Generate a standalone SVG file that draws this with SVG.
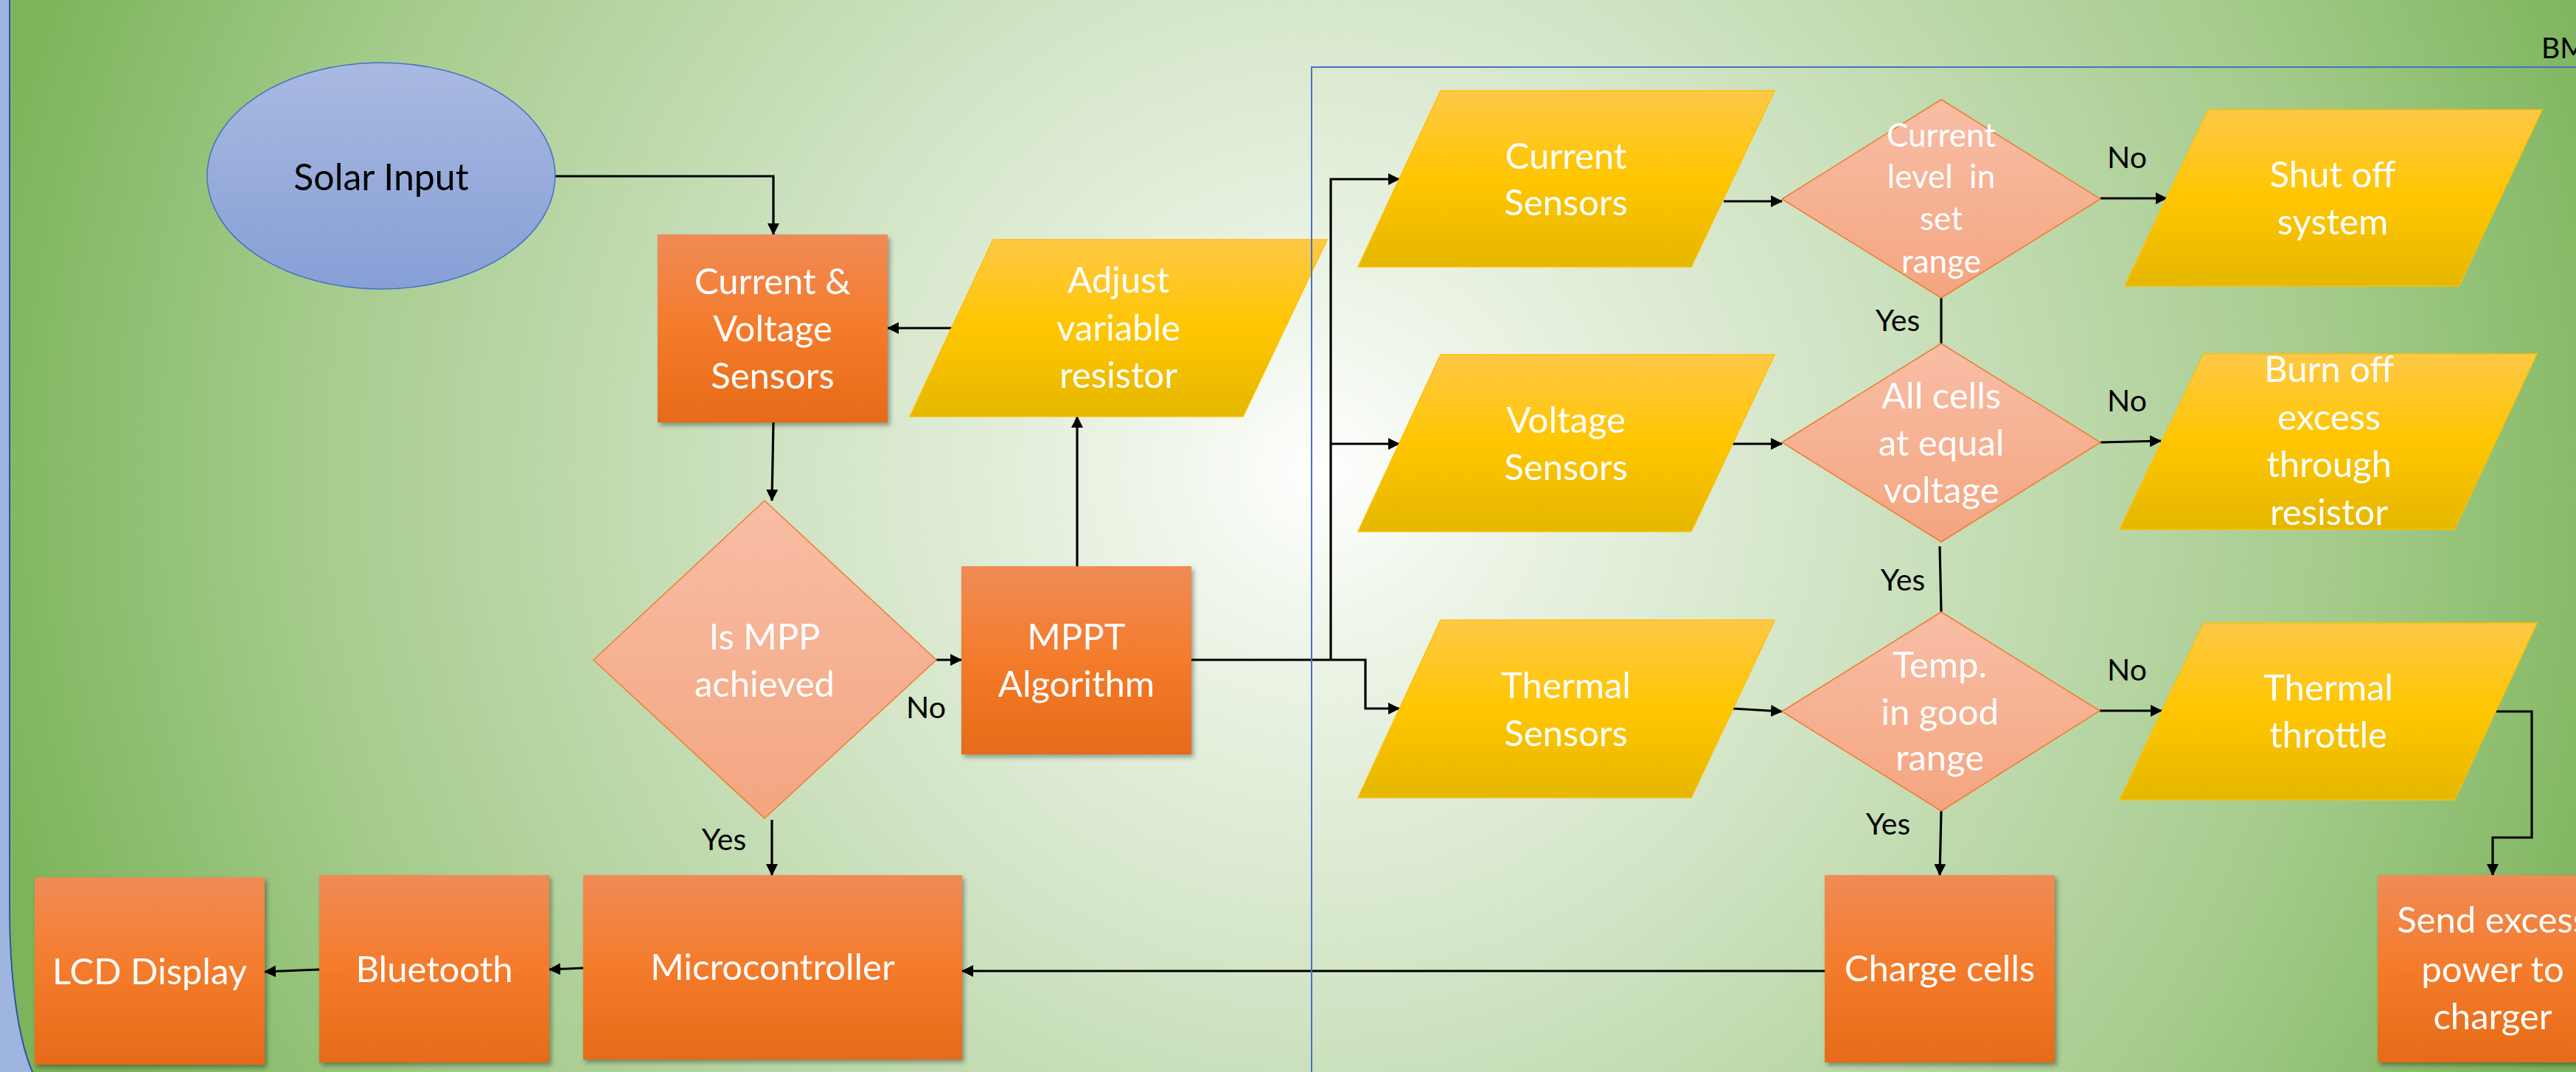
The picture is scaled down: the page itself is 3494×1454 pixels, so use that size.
<svg xmlns="http://www.w3.org/2000/svg" width="3494" height="1454" viewBox="0 0 3494 1454">
<defs>
<radialGradient id="bg" gradientUnits="userSpaceOnUse" cx="1790" cy="640" r="1850">
<stop offset="0" stop-color="#ffffff"/>
<stop offset="0.12" stop-color="#eef5e9"/>
<stop offset="0.4" stop-color="#d0e3c3"/>
<stop offset="0.75" stop-color="#a4cb8b"/>
<stop offset="1" stop-color="#7bb45a"/>
</radialGradient>
<linearGradient id="gOrange" x1="0" y1="0" x2="0" y2="1">
<stop offset="0" stop-color="#f08b56"/>
<stop offset="0.5" stop-color="#f47b2b"/>
<stop offset="1" stop-color="#e66b19"/>
</linearGradient>
<linearGradient id="gYellow" x1="0" y1="0" x2="0" y2="1">
<stop offset="0" stop-color="#ffc847"/>
<stop offset="0.5" stop-color="#ffc600"/>
<stop offset="1" stop-color="#e5b700"/>
</linearGradient>
<linearGradient id="gSalmon" x1="0" y1="0" x2="0" y2="1">
<stop offset="0" stop-color="#f8bea6"/>
<stop offset="1" stop-color="#f4a580"/>
</linearGradient>
<linearGradient id="gBlue" x1="0" y1="0" x2="0" y2="1">
<stop offset="0" stop-color="#a9bae1"/>
<stop offset="1" stop-color="#869fd6"/>
</linearGradient>
<filter id="shadow" x="-10%" y="-10%" width="125%" height="125%">
<feDropShadow dx="3" dy="4" stdDeviation="3" flood-color="#000" flood-opacity="0.35"/>
</filter>
<marker id="arr" markerUnits="userSpaceOnUse" markerWidth="16" markerHeight="16" refX="15" refY="8" orient="auto">
<path d="M0,0 L16,8 L0,16 z" fill="#000"/>
</marker>
</defs>
<style>
.box{fill:url(#gOrange);filter:url(#shadow);}
.para{fill:url(#gYellow);stroke:#ffc000;stroke-width:1.5;}
.dia{fill:url(#gSalmon);stroke:#ed7d31;stroke-width:1.5;}
.t{font-family:Lato,"Open Sans",sans-serif;font-size:49px;fill:#ffffff;text-anchor:middle;}
.t1{font-family:Lato,"Open Sans",sans-serif;font-size:44px;fill:#ffffff;text-anchor:middle;}
.lbl{font-family:Lato,"Open Sans",sans-serif;font-size:41px;fill:#000000;text-anchor:middle;}
.con{fill:none;stroke:#000;stroke-width:3.2;}
.arrow{marker-end:url(#arr);}
</style>

<rect x="0" y="0" width="3494" height="1454" fill="#9eb6df"/>
<path d="M13,0 L3494,0 L3494,1454 L44,1454 C25,1410 13,1330 13,1230 Z" fill="url(#bg)"/>
<path d="M13,0 L13,1230 C13,1330 25,1410 44,1454" fill="none" stroke="#2f55a4" stroke-width="2"/>

<g id="connectors">
<path class="con arrow" d="M753,239 H1049 V318"/>
<path class="con arrow" d="M1049,573 L1047,679"/>
<path class="con arrow" d="M1291,445 H1204"/>
<path class="con arrow" d="M1270,895 H1304"/>
<path class="con arrow" d="M1461,768 V565"/>
<path class="con arrow" d="M1047,1112 V1187"/>
<path class="con arrow" d="M1616,895 H1852 V961 H1898"/>
<path class="con arrow" d="M1805,895 V243 H1898"/>
<path class="con arrow" d="M1805,602 H1898"/>
<path class="con arrow" d="M2338,273 H2417"/>
<path class="con arrow" d="M2350,602 H2417"/>
<path class="con arrow" d="M2350,961 L2417,965"/>
<path class="con" d="M2633,404 V466"/>
<path class="con" d="M2631,741 L2633,830"/>
<path class="con arrow" d="M2633,1100 L2631,1187"/>
<path class="con arrow" d="M2849,269 H2939"/>
<path class="con arrow" d="M2849,600 L2931,598"/>
<path class="con arrow" d="M2848,964 H2932"/>
<path class="con arrow" d="M3386,965 H3434 V1136 H3381 V1187"/>
<path class="con arrow" d="M2475,1317 H1305"/>
<path class="con arrow" d="M791,1313 L745,1315"/>
<path class="con arrow" d="M433,1315 L359,1318"/>
</g>

<g id="solar-input">
<ellipse cx="517" cy="238.5" rx="236" ry="153.5" fill="url(#gBlue)" stroke="#4472c4" stroke-width="1.5"/>
<text class="t" x="517" y="258" style="fill:#000;font-size:50px">Solar Input</text>
</g>

<g id="cv-sensors">
<rect class="box" x="892" y="318" width="312" height="255"/>
<text class="t" x="1048" y="399">Current &amp;</text>
<text class="t" x="1048" y="463">Voltage</text>
<text class="t" x="1048" y="527">Sensors</text>
</g>

<g id="adjust-resistor">
<polygon class="para" points="1347,325 1800,325 1686,565 1234,565"/>
<text class="t" x="1517" y="397">Adjust</text>
<text class="t" x="1517" y="462">variable</text>
<text class="t" x="1517" y="526">resistor</text>
</g>

<g id="mpp-decision">
<polygon class="dia" points="805,895 1037,679 1270,895 1037,1110"/>
<text class="t" x="1037" y="881">Is MPP</text>
<text class="t" x="1037" y="945">achieved</text>
</g>

<g id="mppt">
<rect class="box" x="1304" y="768" width="312" height="255"/>
<text class="t" x="1460" y="881">MPPT</text>
<text class="t" x="1460" y="945">Algorithm</text>
</g>

<g id="microcontroller">
<rect class="box" x="791" y="1187" width="514" height="250"/>
<text class="t" x="1048" y="1329">Microcontroller</text>
</g>

<g id="bluetooth">
<rect class="box" x="433" y="1187" width="312" height="254"/>
<text class="t" x="589" y="1332">Bluetooth</text>
</g>

<g id="lcd-display">
<rect class="box" x="47" y="1190" width="312" height="254"/>
<text class="t" x="203" y="1335">LCD Display</text>
</g>

<g id="current-sensors">
<polygon class="para" points="1954,123 2407,123 2294,362 1842,362"/>
<text class="t" x="2124" y="229">Current</text>
<text class="t" x="2124" y="292">Sensors</text>
</g>

<g id="voltage-sensors">
<polygon class="para" points="1954,481 2407,481 2294,721 1842,721"/>
<text class="t" x="2124" y="587">Voltage</text>
<text class="t" x="2124" y="651">Sensors</text>
</g>

<g id="thermal-sensors">
<polygon class="para" points="1954,841 2407,841 2294,1082 1842,1082"/>
<text class="t" x="2124" y="947">Thermal</text>
<text class="t" x="2124" y="1012">Sensors</text>
</g>

<g id="current-decision">
<polygon class="dia" points="2417,270 2633,135 2849,270 2633,404"/>
<text class="t1" x="2633" y="199">Current</text>
<text class="t1" x="2633" y="255" style="white-space:pre">level  in</text>
<text class="t1" x="2633" y="312">set</text>
<text class="t1" x="2633" y="370">range</text>
</g>

<g id="voltage-decision">
<polygon class="dia" points="2417,600 2633,466 2849,600 2633,735"/>
<text class="t" x="2633" y="554">All cells</text>
<text class="t" x="2633" y="618">at equal</text>
<text class="t" x="2633" y="682">voltage</text>
</g>

<g id="temp-decision">
<polygon class="dia" points="2417,965 2633,830 2848,964 2633,1100"/>
<text class="t" x="2631" y="919">Temp.</text>
<text class="t" x="2631" y="983">in good</text>
<text class="t" x="2631" y="1045">range</text>
</g>

<g id="shut-off">
<polygon class="para" points="2995,149 3448,149 3335,388 2882,388"/>
<text class="t" x="3164" y="254">Shut off</text>
<text class="t" x="3164" y="318">system</text>
</g>

<g id="burn-off">
<polygon class="para" points="2989,480 3441,480 3329,718 2875,718"/>
<text class="t" x="3159" y="518">Burn off</text>
<text class="t" x="3159" y="583">excess</text>
<text class="t" x="3159" y="647">through</text>
<text class="t" x="3159" y="712">resistor</text>
</g>

<g id="thermal-throttle">
<polygon class="para" points="2989,845 3441,845 3329,1085 2875,1085"/>
<text class="t" x="3158" y="950">Thermal</text>
<text class="t" x="3158" y="1014">throttle</text>
</g>

<g id="charge-cells">
<rect class="box" x="2475" y="1187" width="312" height="254"/>
<text class="t" x="2631" y="1331">Charge cells</text>
</g>

<g id="send-excess">
<rect class="box" x="3225" y="1187" width="312" height="254"/>
<text class="t" x="3381" y="1265">Send excess</text>
<text class="t" x="3381" y="1332">power to</text>
<text class="t" x="3381" y="1396">charger</text>
</g>

<g id="bms-frame">
<rect x="1779" y="91" width="1800" height="1400" fill="none" stroke="#4472c4" stroke-width="2"/>
<text class="lbl" x="3447" y="79" style="text-anchor:start;font-size:39px">BMS</text>
</g>

<g id="labels">
<text class="lbl" x="1256" y="974">No</text>
<text class="lbl" x="982" y="1153">Yes</text>
<text class="lbl" x="2574" y="449">Yes</text>
<text class="lbl" x="2581" y="801">Yes</text>
<text class="lbl" x="2561" y="1132">Yes</text>
<text class="lbl" x="2885" y="228">No</text>
<text class="lbl" x="2885" y="558">No</text>
<text class="lbl" x="2885" y="923">No</text>
</g>
</svg>
